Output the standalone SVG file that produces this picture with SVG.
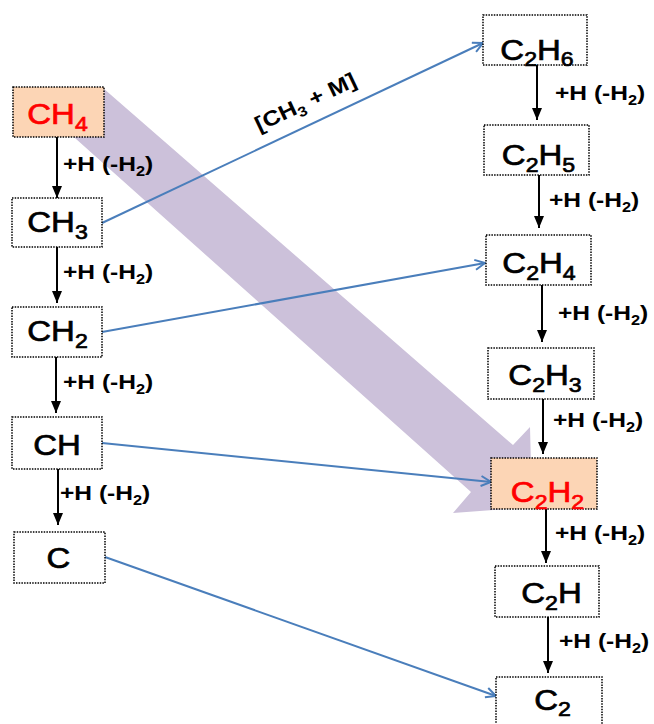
<svg xmlns="http://www.w3.org/2000/svg" width="654" height="724" viewBox="0 0 654 724">
<defs>
<style>
.box{fill:#ffffff;stroke:#000;stroke-width:1.5;stroke-dasharray:1.5 1.2}
.hl{fill:#FCD5B5}
.n{font-family:"Liberation Sans",Arial,sans-serif;font-size:30px;fill:#000;stroke:#000;stroke-width:0.7;text-anchor:middle}
.red{fill:#FF0000;stroke:#FF0000}
.sub{font-size:21px}
.l{font-family:"Liberation Sans",Arial,sans-serif;font-size:21px;font-weight:bold;fill:#000}
.ls{font-size:14px}
.blk{stroke:#000;stroke-width:2;fill:none;marker-end:url(#ah)}
.blu{stroke:#4A7EBB;stroke-width:2;fill:none;marker-end:url(#bh)}
</style>
<marker id="ah" viewBox="0 0 12 10" refX="12" refY="5" markerWidth="12" markerHeight="10" markerUnits="userSpaceOnUse" orient="auto">
<path d="M0,0 L12,5 L0,10 Z" fill="#000"/>
</marker>
<marker id="bh" viewBox="0 0 12 12" refX="11" refY="6" markerWidth="12" markerHeight="12" markerUnits="userSpaceOnUse" orient="auto">
<path d="M1,1 L11,6 L1,11" fill="none" stroke="#4A7EBB" stroke-width="2"/>
</marker>
</defs>
<rect width="654" height="724" fill="#fff"/>

<g id="big-arrow">
<polygon points="103,88 513,445 530,427 532,507 453,513 471,492 66,130" fill="#CCC1DA"/>
</g>

<g id="connectors">
<line class="blk" x1="57" y1="137" x2="57" y2="198"/>
<line class="blk" x1="57" y1="247" x2="57" y2="303"/>
<line class="blk" x1="56" y1="357" x2="56" y2="413"/>
<line class="blk" x1="58" y1="469" x2="58" y2="525"/>
<line class="blk" x1="537" y1="65" x2="537" y2="120"/>
<line class="blk" x1="539" y1="175" x2="539" y2="228"/>
<line class="blk" x1="542" y1="285" x2="542" y2="342"/>
<line class="blk" x1="543" y1="399" x2="543" y2="454"/>
<line class="blk" x1="546" y1="509" x2="546" y2="563"/>
<line class="blk" x1="548" y1="617" x2="548" y2="673"/>
<line class="blu" x1="102" y1="223" x2="483" y2="43"/>
<line class="blu" x1="102" y1="332" x2="485" y2="263"/>
<line class="blu" x1="102" y1="443" x2="491" y2="482"/>
<line class="blu" x1="105" y1="557" x2="496" y2="696"/>
</g>

<g id="labels">
<g transform="translate(63,171) scale(1.17,1)"><text class="l">+H (-H<tspan class="ls" dy="5">2</tspan><tspan dy="-5">)</tspan></text></g>
<g transform="translate(63,279) scale(1.17,1)"><text class="l">+H (-H<tspan class="ls" dy="5">2</tspan><tspan dy="-5">)</tspan></text></g>
<g transform="translate(63,389) scale(1.17,1)"><text class="l">+H (-H<tspan class="ls" dy="5">2</tspan><tspan dy="-5">)</tspan></text></g>
<g transform="translate(60,500) scale(1.17,1)"><text class="l">+H (-H<tspan class="ls" dy="5">2</tspan><tspan dy="-5">)</tspan></text></g>
<g transform="translate(555,100) scale(1.17,1)"><text class="l">+H (-H<tspan class="ls" dy="5">2</tspan><tspan dy="-5">)</tspan></text></g>
<g transform="translate(549,207) scale(1.17,1)"><text class="l">+H (-H<tspan class="ls" dy="5">2</tspan><tspan dy="-5">)</tspan></text></g>
<g transform="translate(558,320) scale(1.17,1)"><text class="l">+H (-H<tspan class="ls" dy="5">2</tspan><tspan dy="-5">)</tspan></text></g>
<g transform="translate(553,427) scale(1.17,1)"><text class="l">+H (-H<tspan class="ls" dy="5">2</tspan><tspan dy="-5">)</tspan></text></g>
<g transform="translate(555,540) scale(1.17,1)"><text class="l">+H (-H<tspan class="ls" dy="5">2</tspan><tspan dy="-5">)</tspan></text></g>
<g transform="translate(559,648) scale(1.17,1)"><text class="l">+H (-H<tspan class="ls" dy="5">2</tspan><tspan dy="-5">)</tspan></text></g>
<g transform="translate(259,132) rotate(-25.3) scale(1.17,1)"><text class="l">[CH<tspan class="ls" dy="5">3</tspan><tspan dy="-5"> + M]</tspan></text></g>
</g>

<g id="CH4"><rect class="box hl" x="13" y="87" width="91" height="50"/>
<g transform="translate(57.5,124) scale(1.1,1)"><text class="n red">CH<tspan class="sub" dy="7">4</tspan></text></g></g>
<g id="CH3"><rect class="box" x="12" y="198" width="90" height="49"/>
<g transform="translate(57.5,232) scale(1.1,1)"><text class="n">CH<tspan class="sub" dy="7">3</tspan></text></g></g>
<g id="CH2"><rect class="box" x="12" y="307" width="90" height="50"/>
<g transform="translate(57.5,341) scale(1.1,1)"><text class="n">CH<tspan class="sub" dy="7">2</tspan></text></g></g>
<g id="CH"><rect class="box" x="12" y="417" width="90" height="52"/>
<g transform="translate(57,455) scale(1.1,1)"><text class="n">CH</text></g></g>
<g id="C"><rect class="box" x="14" y="532" width="91" height="51"/>
<g transform="translate(58.5,568) scale(1.1,1)"><text class="n">C</text></g></g>

<g id="C2H6"><rect class="box" x="483" y="15" width="104" height="50"/>
<g transform="translate(537,60) scale(1.1,1)"><text class="n">C<tspan class="sub" dy="6">2</tspan><tspan dy="-6">H</tspan><tspan class="sub" dy="6">6</tspan></text></g></g>
<g id="C2H5"><rect class="box" x="484" y="125" width="105" height="50"/>
<g transform="translate(538.5,165) scale(1.1,1)"><text class="n">C<tspan class="sub" dy="7">2</tspan><tspan dy="-7">H</tspan><tspan class="sub" dy="7">5</tspan></text></g></g>
<g id="C2H4"><rect class="box" x="486" y="235" width="105" height="50"/>
<g transform="translate(539,273) scale(1.1,1)"><text class="n">C<tspan class="sub" dy="7">2</tspan><tspan dy="-7">H</tspan><tspan class="sub" dy="7">4</tspan></text></g></g>
<g id="C2H3"><rect class="box" x="488" y="348" width="106" height="51"/>
<g transform="translate(545,385) scale(1.1,1)"><text class="n">C<tspan class="sub" dy="7">2</tspan><tspan dy="-7">H</tspan><tspan class="sub" dy="7">3</tspan></text></g></g>
<g id="C2H2"><rect class="box hl" x="491" y="458" width="106" height="51"/>
<g transform="translate(547.5,502) scale(1.1,1)"><text class="n red">C<tspan class="sub" dy="7">2</tspan><tspan dy="-7">H</tspan><tspan class="sub" dy="7">2</tspan></text></g></g>
<g id="C2H"><rect class="box" x="495" y="566" width="104" height="51"/>
<g transform="translate(551.5,603) scale(1.1,1)"><text class="n">C<tspan class="sub" dy="7">2</tspan><tspan dy="-7">H</tspan></text></g></g>
<g id="C2"><rect class="box" x="496" y="677" width="106" height="60"/>
<g transform="translate(552.5,710) scale(1.1,1)"><text class="n">C<tspan class="sub" dy="6">2</tspan></text></g></g>
</svg>
